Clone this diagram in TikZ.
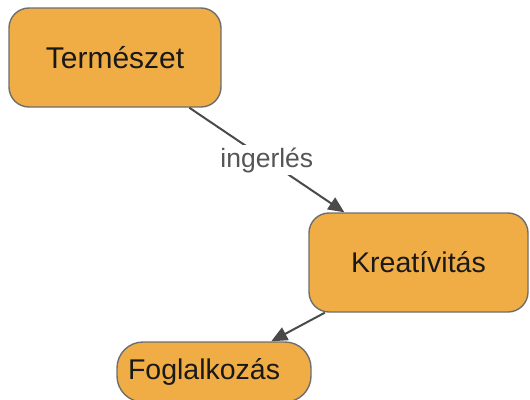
\documentclass[tikz,border=0pt]{standalone}
\usepackage{fontspec}
\setmainfont{Liberation Sans}
\usetikzlibrary{arrows.meta}
\definecolor{boxfill}{HTML}{F0AD45}
\definecolor{boxline}{HTML}{6E6E6E}
\definecolor{edgecol}{HTML}{4A4A4A}
\definecolor{labcol}{HTML}{555555}
\begin{document}
\begin{tikzpicture}[x=1pt,y=-1pt,
  concept/.style={draw=boxline,line width=1.4pt,fill=boxfill,rounded corners=20pt,
    inner sep=0pt,font=\fontsize{28.5}{32}\selectfont,text=black!90},
  link/.style={draw=edgecol,line width=2pt,-{Triangle[length=16pt,width=14pt]}},
  lab/.style={fill=white,text=labcol,inner sep=2pt,font=\fontsize{26.5}{30}\selectfont}]
\useasboundingbox (0,0) rectangle (530,399);
\node[concept,minimum width=212pt,minimum height=99pt] (nat) at (115,57.5) {\fontsize{30}{33}\selectfont Természet};
\node[concept,minimum width=219pt,minimum height=99pt] (kre) at (418.5,262.5) {Kreatívitás};
\node[concept,minimum width=194pt,minimum height=60pt,rounded corners=26pt,
  text width=172pt,align=left] (fog) at (214,372) {\hspace*{0pt}Foglalkozás};
\draw[link] (nat) -- node[lab] {ingerlés} (kre);
\draw[link] (kre) -- (fog);
\end{tikzpicture}
\end{document}
